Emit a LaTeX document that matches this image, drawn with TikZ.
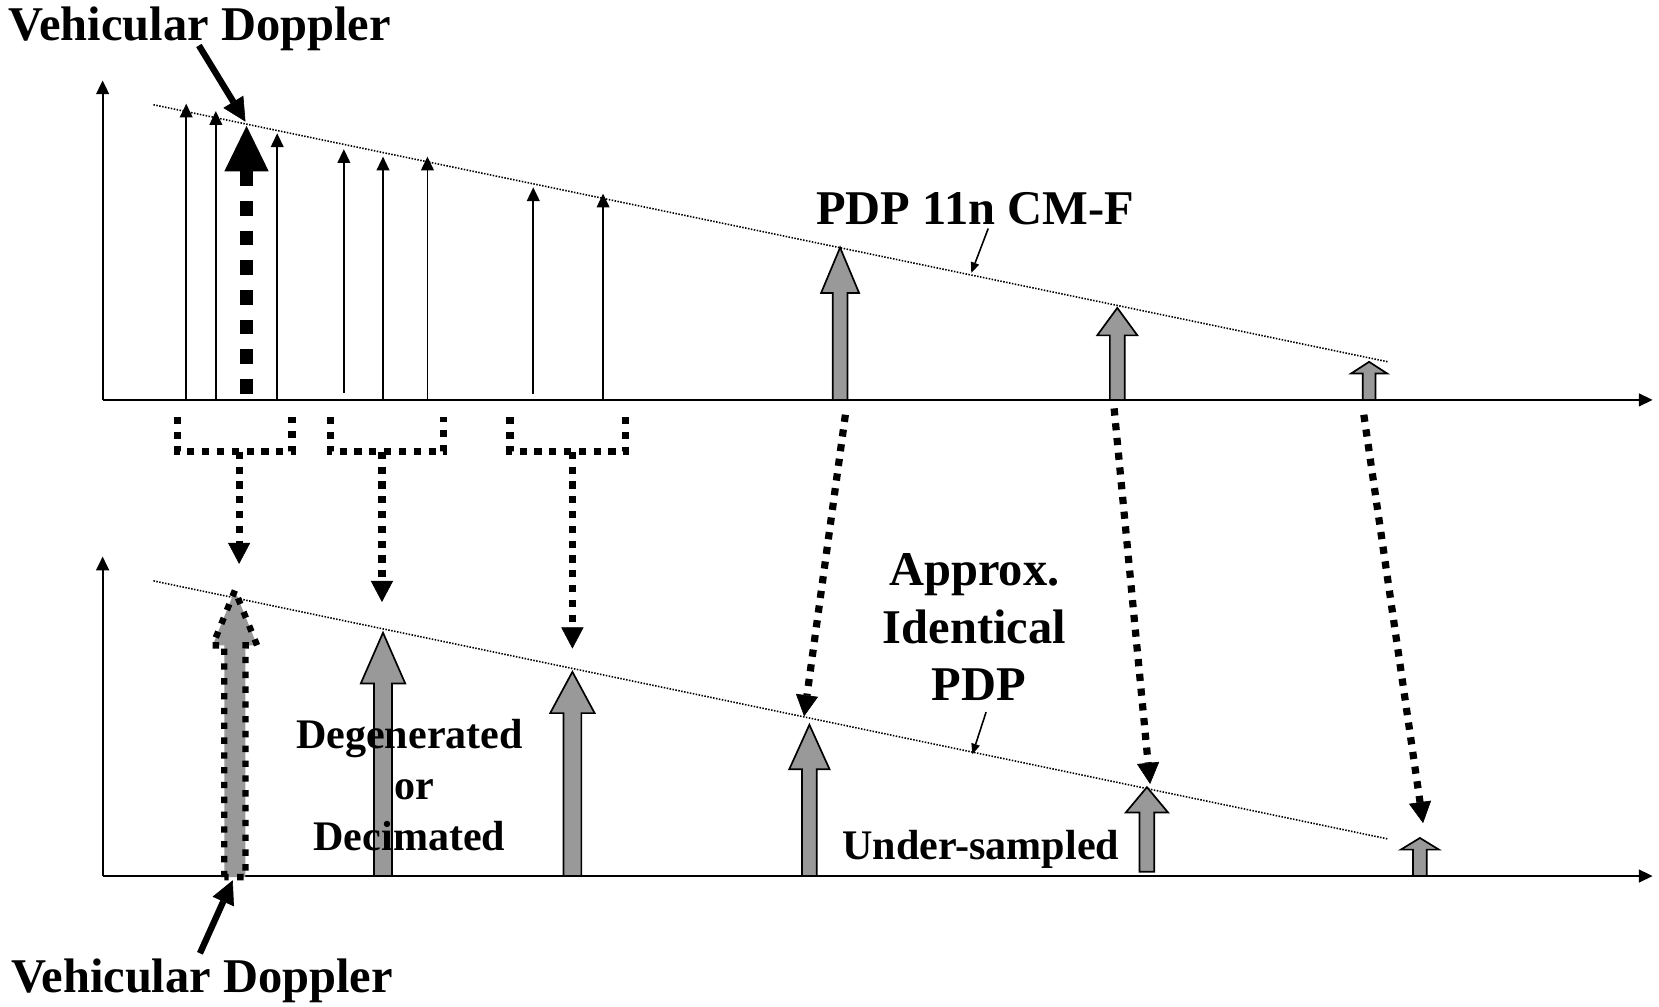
\documentclass[tikz,border=0pt]{standalone}
\usepackage{fontspec}
\setmainfont{Liberation Serif}
\usetikzlibrary{arrows.meta}
\definecolor{blkgray}{RGB}{153,153,153}
% #1 x, #2 bottom y, #3 tip y, #4 head base y, #5 head half width, #6 shaft half width, #7 style
\newcommand\blockarr[7]{%
  \draw[#7] ({#1-#6},{#2}) -- ({#1-#6},{#4}) -- ({#1-#5},{#4}) -- ({#1},{#3})
    -- ({#1+#5},{#4}) -- ({#1+#6},{#4}) -- ({#1+#6},{#2}) -- cycle;}
\begin{document}
\begin{tikzpicture}[x=0.5pt,y=-0.5pt,
  lbl/.style={font=\bfseries\fontsize{22.9}{27}\selectfont, inner sep=0pt},
  lbls/.style={font=\bfseries\fontsize{19.9}{24}\selectfont, inner sep=0pt},
  axisline/.style={line width=1pt, -{Triangle[length=6.5pt,width=6pt]}},
  thinarr/.style={line width=0.75pt, -{Triangle[length=6.5pt,width=6pt]}},
  trend/.style={line width=0.75pt, dash pattern=on 0.7pt off 0.7pt},
  bigdot/.style={line width=3.4pt, dash pattern=on 3.4pt off 3.6pt},
  bigdotarr/.style={bigdot, -{Triangle[length=10pt,width=10.5pt,line width=0.3pt]}},
  callout/.style={line width=3pt, -{Triangle[length=11pt,width=11pt,line width=0.3pt]}},
  pointer/.style={line width=0.75pt, -{Triangle[length=5pt,width=4pt]}},
  block/.style={draw=black, line width=0.8pt, fill=blkgray},
  dotblock/.style={draw=black, line width=3pt, dash pattern=on 3pt off 4pt}
]
\useasboundingbox (0,0) rectangle (1568,951);

% ---------- top panel ----------
\coordinate (o1) at (97,378);
\coordinate (y1) at (97,76);
\coordinate (x1) at (1562,378);
\coordinate (t1a) at (145,99);
\coordinate (t1b) at (1312,342);
\draw[trend] (t1a) -- (t1b);
\draw[axisline] (o1) -- (y1);
\draw[axisline] (o1) -- (x1);

% thin arrows
\foreach \px/\pb/\pt [count=\i] in {176/378/98, 204/378/105, 262/378/126, 325/371/141,
                        362/378/148, 404/378/148, 504/372/177, 570/378/183}{
  \coordinate (ta\i b) at (\px,\pb);
  \coordinate (ta\i t) at (\px,\pt);
  \draw[thinarr] (ta\i b) -- (ta\i t);
}

% thick dashed vehicular doppler arrow
\coordinate (vdb) at (233,372);
\coordinate (vdh) at (233,162);
\draw[line width=6pt, dash pattern=on 7pt off 7pt] (vdb) -- (vdh);
\fill (233,119) -- (212,162) -- (254,162) -- cycle;

% gray block arrows (top)
\blockarr{794}{378}{234}{277}{18}{7}{block}
\blockarr{1056}{378}{291}{317}{19}{7}{block}
\blockarr{1294}{378}{342}{353}{17}{6}{block}

% labels (top)
\node[lbl, anchor=base west] (vd1) at (8,38) {Vehicular Doppler};
\coordinate (vd1s) at (188,43);
\coordinate (vd1e) at (232,115);
\draw[callout] (vd1s) -- (vd1e);

\node[lbl, anchor=base west] (pdpf) at (771,212) {PDP 11n CM-F};
\coordinate (p1s) at (934,216);
\coordinate (p1e) at (918,258);
\draw[pointer] (p1s) -- (p1e);

% ---------- brackets and connectors ----------
\draw[bigdot] (168,394) -- (168,427) -- (276,427) -- (276,394);
\draw[bigdot] (312,394) -- (312,427) -- (419,427) -- (419,394);
\draw[bigdot] (482,394) -- (482,427) -- (591,427) -- (591,394);

\coordinate (c1s) at (226,427); \coordinate (c1e) at (226,533);
\coordinate (c2s) at (361,427); \coordinate (c2e) at (361,569);
\coordinate (c3s) at (541,427); \coordinate (c3e) at (541,613);
\coordinate (c4s) at (799,392); \coordinate (c4e) at (760,677);
\coordinate (c5s) at (1053,386); \coordinate (c5e) at (1087,741);
\coordinate (c6s) at (1289,392); \coordinate (c6e) at (1345,778);
\foreach \i in {1,...,6}{\draw[bigdotarr] (c\i s) -- (c\i e);}

% ---------- bottom panel ----------
\coordinate (o2) at (97,828);
\coordinate (y2) at (97,526);
\coordinate (x2) at (1562,828);
\coordinate (t2a) at (145,549);
\coordinate (t2b) at (1312,793);
\draw[trend] (t2a) -- (t2b);
\draw[axisline] (o2) -- (y2);
\draw[axisline] (o2) -- (x2);

% dotted outlined gray arrow (vehicular doppler)
\blockarr{222}{829}{558}{610}{21}{10}{fill=blkgray, draw=none}
\blockarr{222}{829}{558}{610}{21}{10}{dotblock}

\blockarr{362}{828}{598}{646}{21}{8.5}{block}
\blockarr{541}{828}{635}{674}{21}{8.5}{block}
\blockarr{765}{828}{685}{727}{19}{7}{block}
\blockarr{1084}{824}{744}{768}{20}{7}{block}
\blockarr{1342}{828}{792}{803}{18}{6.5}{block}

% labels (bottom)
\node[lbl, anchor=base] (apx1) at (921,553) {Approx.};
\node[lbl, anchor=base] (apx2) at (921,608) {Identical};
\node[lbl, anchor=base] (apx3) at (925,662) {PDP};
\coordinate (p2s) at (932,673);
\coordinate (p2e) at (919,713);
\draw[pointer] (p2s) -- (p2e);

\node[lbls, anchor=base] (deg1) at (387,707) {Degenerated};
\node[lbls, anchor=base] (deg2) at (392,756) {or};
\node[lbls, anchor=base] (deg3) at (387,804) {Decimated};
\node[lbls, anchor=base] (under) at (927,812) {Under-sampled};

\node[lbl, anchor=base west] (vd2) at (10,938) {Vehicular Doppler};
\coordinate (vd2s) at (189,901);
\coordinate (vd2e) at (220,832);
\draw[callout] (vd2s) -- (vd2e);
\end{tikzpicture}
\end{document}
